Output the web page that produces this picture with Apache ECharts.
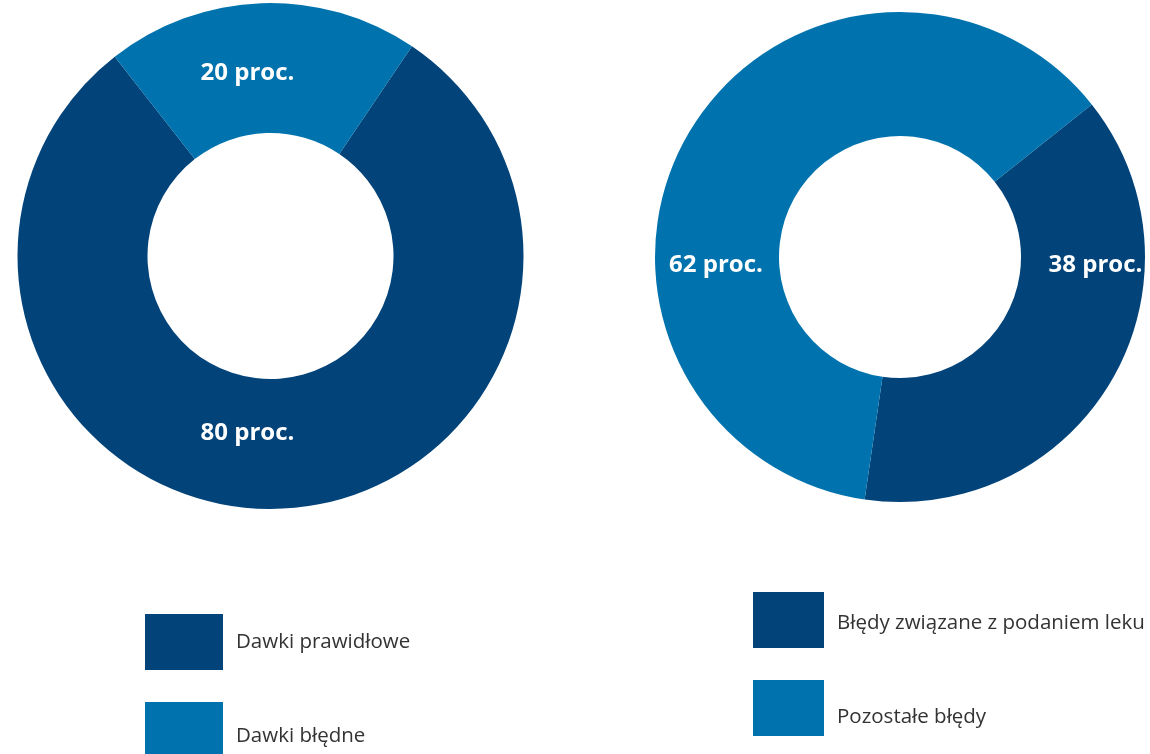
<!DOCTYPE html>
<html>
<head>
<meta charset="utf-8">
<script src="https://cdn.jsdelivr.net/npm/echarts@6/dist/echarts.min.js"></script>
<style>
html,body{margin:0;padding:0;background:#fff;}
#chart{width:1150px;height:754px;}
</style>
</head>
<body>
<div id="chart"></div>
<script>
// ---- data ----
const leftCategories = ['Dawki prawidłowe', 'Dawki błędne'];
const leftValues = [80, 20];
const rightCategories = ['Błędy związane z podaniem leku', 'Pozostałe błędy'];
const rightValues = [38, 62];
const labelUnit = 'proc.';

// ---- style ----
const DARK = '#02437a';
const LIGHT = '#0073ae';
const leftColors = [DARK, LIGHT];
const rightColors = [DARK, LIGHT];
const leftLabelOffsets = [[-23, 177.5], [-23, -182.5]];
const rightLabelOffsets = [[195.5, 8], [-184, 8]];

// legend placement per item: [left, top, itemWidth, text shift down]
const leftLegendPos = [[145, 614, 78, 0], [145, 702, 78, 6]];
const rightLegendPos = [[753, 592, 71, 3], [753, 680, 71, 9]];

function buildData(cats, vals, colors, offsets) {
  return cats.map((c, i) => ({
    name: c,
    value: vals[i],
    itemStyle: { color: colors[i] },
    label: { offset: offsets[i] }
  }));
}

function buildLegends(cats, pos) {
  return cats.map((c, i) => ({
    data: [c],
    orient: 'vertical',
    left: pos[i][0], top: pos[i][1],
    padding: 0,
    itemWidth: pos[i][2], itemHeight: 56, itemGap: 0,
    icon: 'rect',
    selectedMode: false,
    formatter: name => '{t|' + name + '}',
    textStyle: {
      color: '#333333',
      fontFamily: 'Open Sans',
      fontSize: 20.5,
      rich: {
        t: {
          color: '#333333',
          fontFamily: 'Open Sans',
          fontSize: 20.5,
          padding: [pos[i][3] * 2, 0, 0, 8]
        }
      }
    }
  }));
}

const labelStyle = {
  show: true,
  position: 'center',
  formatter: '{c} ' + labelUnit,
  color: '#ffffff',
  fontFamily: 'Open Sans',
  fontWeight: 'bold',
  fontSize: 24
};

const chart = echarts.init(document.getElementById('chart'), null, { renderer: 'canvas' });
chart.setOption({
  animation: false,
  backgroundColor: '#ffffff',
  legend: buildLegends(leftCategories, leftLegendPos).concat(buildLegends(rightCategories, rightLegendPos)),
  series: [
    {
      type: 'pie',
      center: [270.5, 256],
      radius: [123, 253],
      startAngle: 56,
      clockwise: true,
      silent: true,
      avoidLabelOverlap: false,
      labelLine: { show: false },
      label: labelStyle,
      data: buildData(leftCategories, leftValues, leftColors, leftLabelOffsets)
    },
    {
      type: 'pie',
      center: [900, 257],
      radius: [121, 245],
      startAngle: 38.5,
      clockwise: true,
      silent: true,
      avoidLabelOverlap: false,
      labelLine: { show: false },
      label: labelStyle,
      data: buildData(rightCategories, rightValues, rightColors, rightLabelOffsets)
    }
  ]
});
</script>
</body>
</html>
